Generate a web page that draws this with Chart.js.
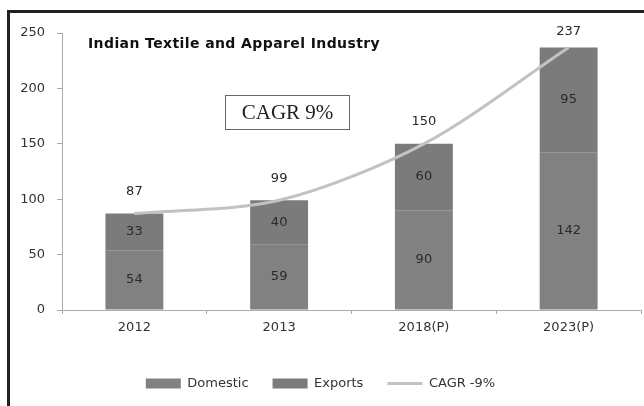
<!DOCTYPE html>
<html>
<head>
<meta charset="utf-8">
<script src="https://cdn.jsdelivr.net/npm/chart.js@4.4.1/dist/chart.umd.min.js"></script>
<style>
  html, body { margin: 0; padding: 0; background: #fff; }
  #wrap { position: relative; width: 644px; height: 406px; overflow: hidden; }
  #frame { position: absolute; left: 7px; top: 10px; width: 700px; height: 500px; border: 3px solid #222; }
  #cv { position: absolute; left: 0; top: 0; }
  #title { position: absolute; left: 88px; top: 35px; font: bold 14px "DejaVu Sans", sans-serif; color: #111; letter-spacing: 0.4px; }
  #cagr { position: absolute; left: 225px; top: 95px; width: 123px; height: 33px; border: 1px solid #666;
          font: 21px "Liberation Serif", serif; color: #222; text-align: center; line-height: 33px; }
</style>
</head>
<body>
<div id="wrap">
  <div id="frame"></div>
  <canvas id="cv" width="644" height="406"></canvas>
  <div id="title">Indian Textile and Apparel Industry</div>
  <div id="cagr">CAGR 9%</div>
</div>
<script>
// values
const years = ['2012', '2013', '2018(P)', '2023(P)'];
const domestic = [54, 59, 90, 142];
const exportsVals = [33, 40, 60, 95];
const totals = [87, 99, 150, 237];
const yTicks = [0, 50, 100, 150, 200, 250];

const family = '"DejaVu Sans", sans-serif';

// draws segment values and totals using element positions from the scales
const valueLabels = {
    id: 'valueLabels',
    afterDatasetsDraw(chart) {
        const ctx = chart.ctx;
        ctx.save();
        ctx.font = '13px ' + family;
        ctx.fillStyle = '#2a2a2a';
        ctx.textAlign = 'center';
        ctx.textBaseline = 'middle';
        [0, 1].forEach(di => {
            const meta = chart.getDatasetMeta(di);
            meta.data.forEach((bar, i) => {
                const v = chart.data.datasets[di].data[i];
                ctx.fillText(String(v), bar.x, (bar.y + bar.base) / 2);
            });
        });
        const topMeta = chart.getDatasetMeta(1);
        topMeta.data.forEach((bar, i) => {
            ctx.fillText(String(totals[i]), bar.x, Math.max(bar.y - 22, 32));
        });
        ctx.restore();
    }
};

new Chart(document.getElementById('cv'), {
    type: 'bar',
    data: {
        labels: years,
        datasets: [
            { label: 'Domestic', data: domestic, backgroundColor: '#818181', stack: 'bars', order: 1, pointStyle: 'rect' },
            { label: 'Exports', data: exportsVals, backgroundColor: '#7b7b7b', stack: 'bars', order: 1, pointStyle: 'rect' },
            {
                type: 'line', label: 'CAGR -9%', data: totals, stack: 'line', order: 0,
                borderColor: '#c2c2c2', backgroundColor: '#c2c2c2', borderWidth: 3,
                pointRadius: 0, tension: 0.3, pointStyle: 'line'
            }
        ]
    },
    options: {
        responsive: false,
        animation: false,
        categoryPercentage: 0.8,
        barPercentage: 0.5,
        layout: { padding: { top: 33, right: 3, bottom: 6, left: 0 } },
        plugins: {
            tooltip: { enabled: false },
            legend: {
                position: 'bottom',
                labels: {
                    usePointStyle: true,
                    pointStyleWidth: 35,
                    boxHeight: 10,
                    padding: 24,
                    color: '#333',
                    font: { family: family, size: 13 },
                    sort: (a, b) => a.datasetIndex - b.datasetIndex
                }
            }
        },
        scales: {
            x: {
                stacked: true,
                grid: { offset: true, drawOnChartArea: false, tickLength: 4, color: '#aaa' },
                border: { color: '#aaa' },
                ticks: { color: '#333', font: { family: family, size: 13 }, padding: 6 },
                afterFit(scale) { scale.height = 43; }
            },
            y: {
                stacked: true,
                min: 0,
                max: 250,
                afterBuildTicks(scale) { scale.ticks = yTicks.map(v => ({ value: v })); },
                grid: { drawOnChartArea: false, tickLength: 5, color: '#aaa' },
                border: { color: '#aaa' },
                ticks: { color: '#333', font: { family: family, size: 13 }, padding: 12 },
                afterFit(scale) { scale.width = 62; }
            }
        }
    },
    plugins: [valueLabels]
});
</script>
</body>
</html>
